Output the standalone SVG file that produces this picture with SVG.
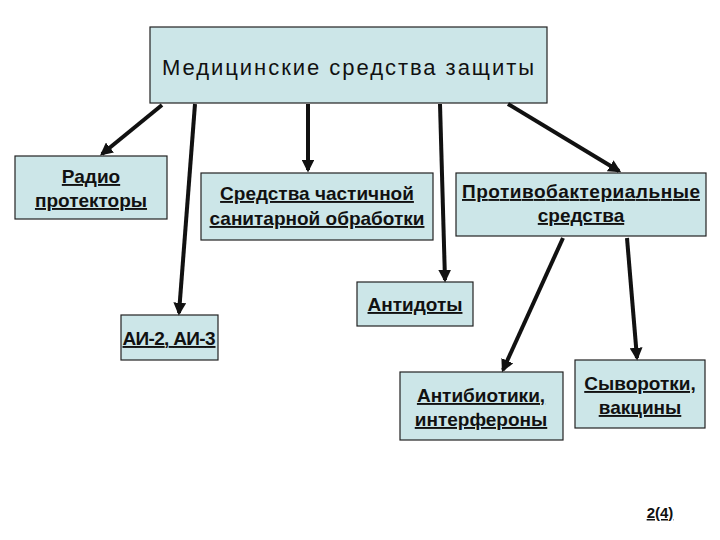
<svg xmlns="http://www.w3.org/2000/svg" width="720" height="540" viewBox="0 0 720 540">
<style>
.b{fill:#cce6e8;stroke:#222;stroke-width:1.2}
text{font-family:"Liberation Sans",Arial,sans-serif;font-weight:bold;font-size:19px;fill:#111;text-anchor:middle;text-decoration:underline}
.c line{stroke:#111;stroke-width:4;marker-end:url(#a)}
</style>
<defs><marker id="a" viewBox="0 0 10 10" refX="8" refY="5" markerWidth="3.2" markerHeight="3.2" orient="auto"><path d="M0,0L10,5L0,10z" fill="#111"/></marker></defs>
<rect width="720" height="540" fill="#fff"/>
<g id="top"><rect class="b" x="150" y="27" width="397" height="76"/><text x="348" y="75" style="font-size:22px;font-weight:normal;text-decoration:none" textLength="372">Медицинские средства защиты</text></g>
<g id="radio"><rect class="b" x="15" y="156" width="152" height="63"/><text x="91" y="183">Радио</text><text x="91" y="207">протекторы</text></g>
<g id="spch"><rect class="b" x="201" y="173" width="232" height="67"/><text x="317" y="200">Средства частичной</text><text x="317" y="225">санитарной обработки</text></g>
<g id="prot"><rect class="b" x="456" y="173" width="250" height="63"/><text x="581" y="198" textLength="238">Противобактериальные</text><text x="581" y="222">средства</text></g>
<g id="antid"><rect class="b" x="357" y="282" width="116" height="44"/><text x="415" y="311">Антидоты</text></g>
<g id="ai"><rect class="b" x="121" y="315" width="97" height="45"/><text x="169" y="345" textLength="93">АИ-2, АИ-3</text></g>
<g id="antib"><rect class="b" x="400" y="372" width="163" height="68"/><text x="481" y="402">Антибиотики,</text><text x="481" y="426">интерфероны</text></g>
<g id="syv"><rect class="b" x="575" y="360" width="130" height="68"/><text x="640" y="390">Сыворотки,</text><text x="640" y="414">вакцины</text></g>
<g class="c">
<line x1="162" y1="105" x2="102" y2="154"/>
<line x1="195" y1="104" x2="179" y2="313"/>
<line x1="308" y1="104" x2="308" y2="170"/>
<line x1="440" y1="104" x2="445" y2="280"/>
<line x1="508" y1="104" x2="619" y2="171"/>
<line x1="563" y1="238" x2="503" y2="370"/>
<line x1="627" y1="238" x2="637" y2="358"/>
</g>
<text x="660" y="518" style="font-size:15px">2(4)</text>
</svg>
